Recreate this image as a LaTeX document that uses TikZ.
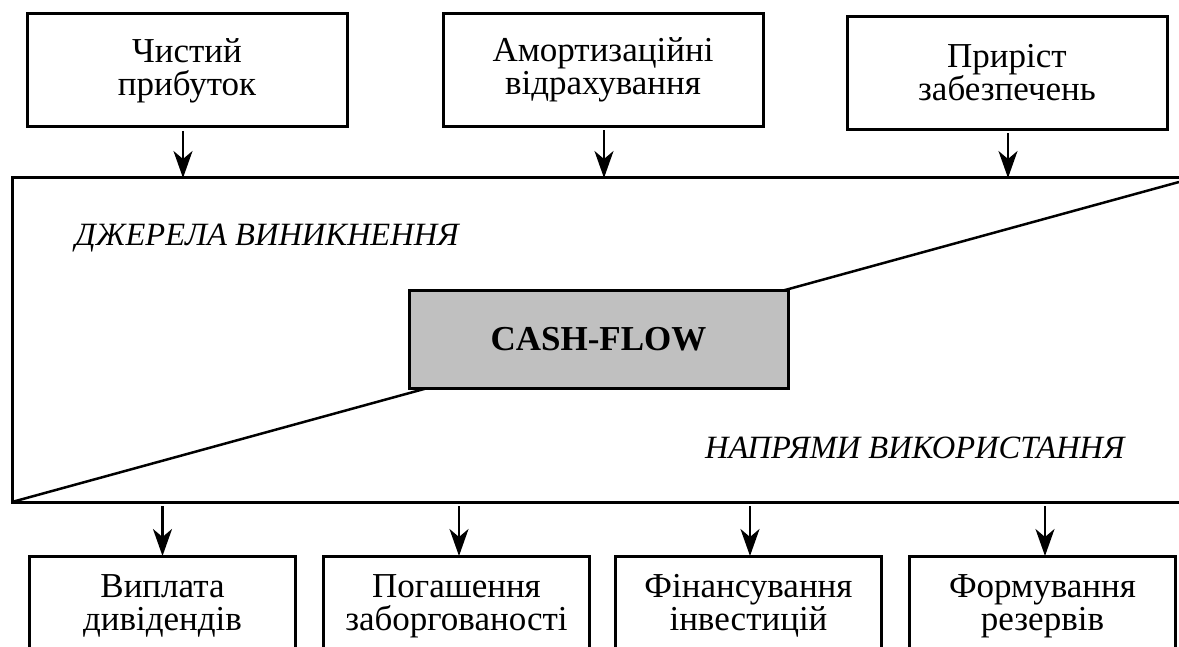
\documentclass[tikz,border=0pt]{standalone}
\usepackage{fontspec}
\setmainfont{Liberation Serif}
\usetikzlibrary{arrows.meta}
\definecolor{cfgray}{RGB}{192,192,192}
\begin{document}
\begin{tikzpicture}[x=1pt,y=-1pt,
  box/.style={draw, line width=3pt, align=center, inner sep=0pt, outer sep=0pt,
    font=\fontsize{35}{33}\selectfont},
  topbox/.style={box, minimum width=320pt, minimum height=113pt},
  lowbox/.style={box, anchor=north, minimum width=266pt, minimum height=100pt},
  arr/.style={line width=2.2pt, -{Stealth[length=27pt,width=19pt,inset=8pt]}, shorten <=4pt},
  lbl/.style={inner sep=0pt, anchor=base west, font=\fontsize{32.5}{32}\selectfont\itshape}]
\useasboundingbox (0,0) rectangle (1179,647);
% top boxes
\node[topbox] (np) at (187,70.5) {Чистий\\прибуток};
\node[topbox] (am) at (603,70) {Амортизаційні\\відрахування};
\node[topbox] (pz) at (1007,73) {Приріст\\забезпечень};
% big frame
\node[draw, line width=3pt, inner sep=0pt, outer sep=0pt, anchor=north west,
  minimum width=1190pt, minimum height=324pt] (flow) at (12,178) {};
\coordinate (ne) at (1179,182);
\draw[line width=2.5pt] (flow.south west) -- (ne);
% labels
\node[lbl] (src) at (75,246) {ДЖЕРЕЛА ВИНИКНЕННЯ};
\node[lbl] (use) at (705,458) {НАПРЯМИ ВИКОРИСТАННЯ};
% cash flow
\node[box, fill=cfgray, minimum width=379pt, minimum height=97pt,
  font=\fontsize{35}{35}\selectfont\bfseries] (cf) at (598.5,339.5) {CASH-FLOW};
% bottom boxes
\node[lowbox] (vd) at (162.5,556) {Виплата\\дивідендів};
\node[lowbox] (pg) at (456.5,556) {Погашення\\заборгованості};
\node[lowbox] (fi) at (748.5,556) {Фінансування\\інвестицій};
\node[lowbox] (fr) at (1042.5,556) {Формування\\резервів};
% arrows
\draw[arr] ([xshift=-4pt]np.south) -- ([xshift=-4pt]np.south |- flow.north);
\draw[arr] ([xshift=1pt]am.south) -- ([xshift=1pt]am.south |- flow.north);
\draw[arr] ([xshift=1pt]pz.south) -- ([xshift=1pt]pz.south |- flow.north);
\draw[arr] (vd.north |- flow.south) -- (vd.north);
\draw[arr] ([xshift=2.5pt]pg.north |- flow.south) -- ([xshift=2.5pt]pg.north);
\draw[arr] ([xshift=1.5pt]fi.north |- flow.south) -- ([xshift=1.5pt]fi.north);
\draw[arr] ([xshift=2.5pt]fr.north |- flow.south) -- ([xshift=2.5pt]fr.north);
\end{tikzpicture}
\end{document}
